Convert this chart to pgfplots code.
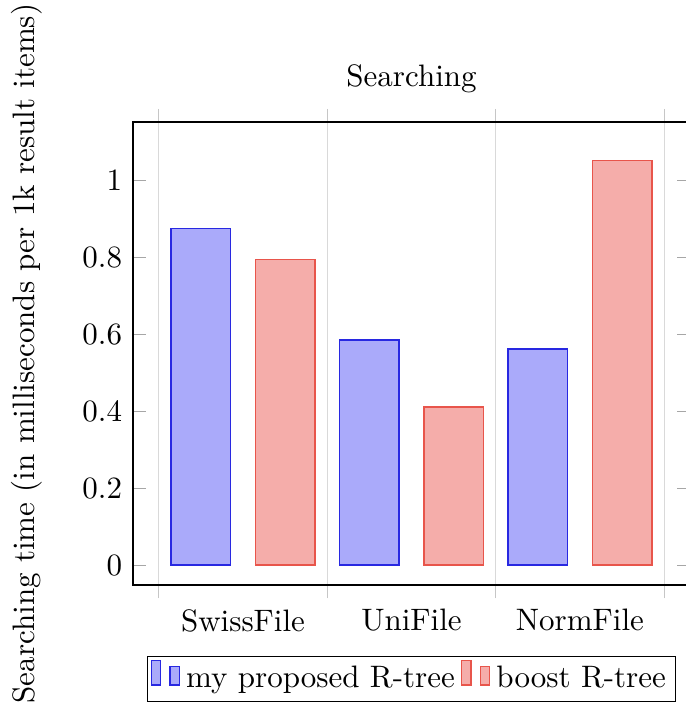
\documentclass[border=0pt]{standalone}
\usepackage{pgfplots}
\pgfplotsset{compat=1.18}

\definecolor{barblue}{RGB}{170,170,250}
\definecolor{edgeblue}{RGB}{40,40,225}
\definecolor{barred}{RGB}{245,173,170}
\definecolor{edgered}{RGB}{232,85,75}

\pgfplotstableread{
x  mine   boost
0  0.875  0.795
1  0.585  0.411
2  0.562  1.051
}\searchdata

\begin{document}
\begin{tikzpicture}
\begin{axis}[
  scale only axis,
  width=179.6pt, height=149.3pt,
  title={Searching},
  ylabel={Searching time (in milliseconds per 1k result items)},
  ylabel shift=6pt,
  xmin=-0.653, xmax=2.653,
  ymin=-0.052, ymax=1.152,
  ytick={0,0.2,0.4,0.6,0.8,1},
  xtick={-0.5,0.5,1.5,2.5},
  x tick label as interval,
  xticklabels={SwissFile,UniFile,NormFile},
  x tick style={gray!45, thin},
  y tick style={gray!70},
  xtick align=outside,
  xmajorgrids,
  major grid style={gray!30, thin},
  ybar=8pt,
  bar width=19.2pt,
  legend style={at={(0.5,-0.153)}, anchor=north, legend columns=-1, draw=black,
                inner xsep=1pt, inner ysep=1pt},
  clip=false,
]
\addplot[draw=edgeblue, fill=barblue] table[x=x, y=mine] {\searchdata};
\addplot[draw=edgered, fill=barred] table[x=x, y=boost] {\searchdata};
\legend{my proposed R-tree, boost R-tree}
\coordinate (bbA) at (rel axis cs:-0.2388,1.2635);
\coordinate (bbB) at (rel axis cs:0.9928,-0.2613);
\end{axis}
\pgfresetboundingbox
\useasboundingbox (bbA) rectangle (bbB);
\end{tikzpicture}
\end{document}
